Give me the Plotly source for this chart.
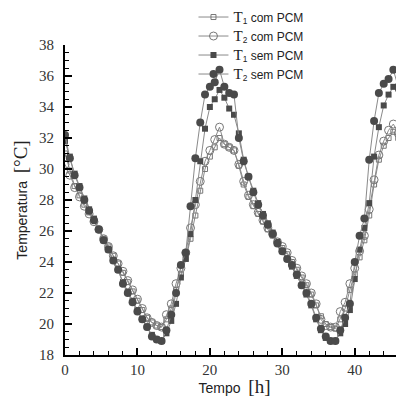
import plotly.graph_objects as go

# time in hours (40-minute sampling)
tempo = [0.0, 0.67, 1.33, 2.0, 2.67, 3.33, 4.0, 4.67, 5.33, 6.0, 6.67, 7.33, 8.0, 8.67, 9.33,
         10.0, 10.67, 11.33, 12.0, 12.67, 13.33, 14.0, 14.67, 15.33, 16.0, 16.67, 17.33, 18.0,
         18.67, 19.33, 20.0, 20.67, 21.33, 22.0, 22.67, 23.33, 24.0, 24.67, 25.33, 26.0, 26.67,
         27.33, 28.0, 28.67, 29.33, 30.0, 30.67, 31.33, 32.0, 32.67, 33.33, 34.0, 34.67, 35.33,
         36.0, 36.67, 37.33, 38.0, 38.67, 39.33, 40.0, 40.67, 41.33, 42.0, 42.67, 43.33, 44.0,
         44.67, 45.33, 46.0, 46.67]

t1_com = [31.0, 29.9, 28.9, 28.3, 27.7, 27.2, 26.7, 26.1, 25.5, 25.0, 24.4, 23.9, 23.3, 22.7, 22.1,
          21.5, 20.9, 20.4, 20.1, 19.9, 19.8, 20.3, 21.0, 22.2, 23.2, 24.2, 25.5, 27.0,
          28.6, 30.0, 30.8, 31.4, 32.0, 31.6, 31.4, 31.2, 30.2, 29.0, 28.2, 27.6, 27.1,
          26.6, 26.1, 25.7, 25.2, 24.9, 24.5, 24.0, 23.5, 23.0, 22.5, 21.9, 21.2, 20.5,
          20.0, 19.8, 19.7, 20.3, 21.0, 22.2, 23.2, 24.3, 25.4, 27.0, 29.0, 30.6, 31.5,
          32.0, 32.4, 32.0, 31.7]

t2_com = [30.3, 29.6, 28.8, 28.2, 27.6, 27.1, 26.6, 26.1, 25.5, 25.0, 24.4, 23.9, 23.4, 22.8, 22.2,
          21.6, 21.0, 20.4, 20.1, 19.9, 19.8, 20.6, 21.3, 22.6, 23.6, 24.6, 26.2, 27.7,
          29.2, 30.5, 31.2, 31.9, 32.7, 31.6, 31.4, 31.2, 30.3, 29.2, 28.3, 27.7, 27.2,
          26.7, 26.2, 25.8, 25.3, 25.0, 24.6, 24.1, 23.6, 23.1, 22.6, 22.0, 21.3, 20.3,
          19.9, 19.8, 19.8, 20.8, 21.4, 22.6, 23.6, 24.7, 25.7, 27.4, 29.3, 30.9, 31.8,
          32.5, 32.9, 32.3, 31.9]

t1_sem = [31.8, 30.8, 29.7, 28.9, 28.1, 27.4, 26.8, 26.1, 25.4, 24.8, 24.1, 23.5, 22.7, 22.1, 21.5,
          20.9, 20.3, 19.8, 19.3, 19.0, 18.9, 19.4, 20.2, 21.3, 23.0, 24.2, 25.8, 28.0,
          30.5, 32.6, 34.0, 34.5, 35.1, 34.6, 33.9, 33.5, 32.3, 30.6, 29.5, 28.6, 27.8,
          27.1, 26.5, 25.9, 25.3, 24.7, 24.2, 23.7, 23.1, 22.5, 21.9, 21.2, 20.3, 19.6,
          19.1, 18.9, 18.9, 19.4, 20.0, 20.9, 22.9, 24.8, 26.2, 27.8, 30.8, 32.7, 34.1,
          34.8, 35.3, 35.2, 34.0]

t2_sem = [32.2, 30.7, 29.6, 28.8, 28.0, 27.3, 26.7, 26.1, 25.4, 24.8, 24.1, 23.5, 22.6, 22.0, 21.4,
          20.8, 20.3, 19.8, 19.2, 19.0, 18.9, 19.6, 20.6, 22.0, 23.8, 24.6, 27.6, 30.7,
          33.0, 34.8, 35.3, 35.6, 36.4, 35.3, 34.9, 34.8, 32.0, 30.5, 29.5, 28.5, 27.7,
          27.0, 26.4, 25.8, 25.2, 24.7, 24.2, 23.8, 23.2, 22.5, 22.0, 21.3, 20.4, 19.7,
          19.2, 18.9, 18.9, 19.6, 20.4, 21.3, 24.0, 25.7, 26.8, 30.6, 33.1, 34.9, 35.5,
          35.8, 36.4, 35.3, 34.8]

x_ticks = [0, 10, 20, 30, 40]
y_ticks = [18, 20, 22, 24, 26, 28, 30, 32, 34, 36, 38]

SERIF = "Liberation Serif"
SANS = "Liberation Sans"

def T(n, rest):
    return (f"<span style='font-family:{SERIF};font-size:15px'>T</span>"
            f"<sub>{n}</sub> {rest}")

fig = go.Figure()
line_c = "#8a8a8a"
fig.add_trace(go.Scatter(x=tempo, y=t1_com, mode="lines+markers", name=T(1, "com PCM"),
                         line=dict(color=line_c, width=1),
                         marker=dict(symbol="square-open", size=5, color="#777777",
                                     line=dict(width=1))))
fig.add_trace(go.Scatter(x=tempo, y=t2_com, mode="lines+markers", name=T(2, "com PCM"),
                         line=dict(color=line_c, width=1),
                         marker=dict(symbol="circle-open", size=8, color="#777777",
                                     line=dict(width=1))))
fig.add_trace(go.Scatter(x=tempo, y=t1_sem, mode="lines+markers", name=T(1, "sem PCM"),
                         line=dict(color=line_c, width=1),
                         marker=dict(symbol="square", size=6, color="#4a4a4a")))
fig.add_trace(go.Scatter(x=tempo, y=t2_sem, mode="lines+markers", name=T(2, "sem PCM"),
                         line=dict(color=line_c, width=1),
                         marker=dict(symbol="circle", size=8, color="#4a4a4a")))

fig.update_layout(
    width=396, height=389,
    margin=dict(l=57, r=0, t=37, b=42, autoexpand=False),
    paper_bgcolor="white", plot_bgcolor="white",
    font=dict(family=SANS, color="#222222"),
    showlegend=True,
    legend=dict(x=0.379, y=1.137, xanchor="left", yanchor="top",
                bgcolor="rgba(0,0,0,0)", font=dict(family=SANS, size=12, color="#222222"),
                itemwidth=30, tracegroupgap=0),
    xaxis=dict(range=[0, 46.8], tickvals=x_ticks, ticks="inside", ticklen=7, tickwidth=2,
               tickcolor="black", showline=True, linecolor="black", linewidth=2,
               showgrid=False, zeroline=False, automargin=False,
               minor=dict(dtick=2, ticks="inside", ticklen=4, tickcolor="black", tickwidth=1),
               tickfont=dict(family=SERIF, size=15, color="#333333"),
               title=dict(text=f"Tempo  <span style='font-family:{SERIF};font-size:19px'>[h]</span>",
                          font=dict(family=SANS, size=14, color="#222222"), standoff=9)),
    yaxis=dict(range=[18, 38], tickvals=y_ticks, ticks="inside", ticklen=7, tickwidth=2,
               tickcolor="black", showline=True, linecolor="black", linewidth=2,
               showgrid=False, zeroline=False, automargin=False, ticklabelstandoff=6,
               minor=dict(dtick=0.5, ticks="inside", ticklen=4, tickcolor="black", tickwidth=1),
               tickfont=dict(family=SERIF, size=15, color="#333333"),
               title=dict(text=f"Temperatura  <span style='font-family:{SERIF};font-size:19px'>[°C]</span>",
                          font=dict(family=SANS, size=14, color="#222222"), standoff=8)),
)

fig.write_html("out.html")
